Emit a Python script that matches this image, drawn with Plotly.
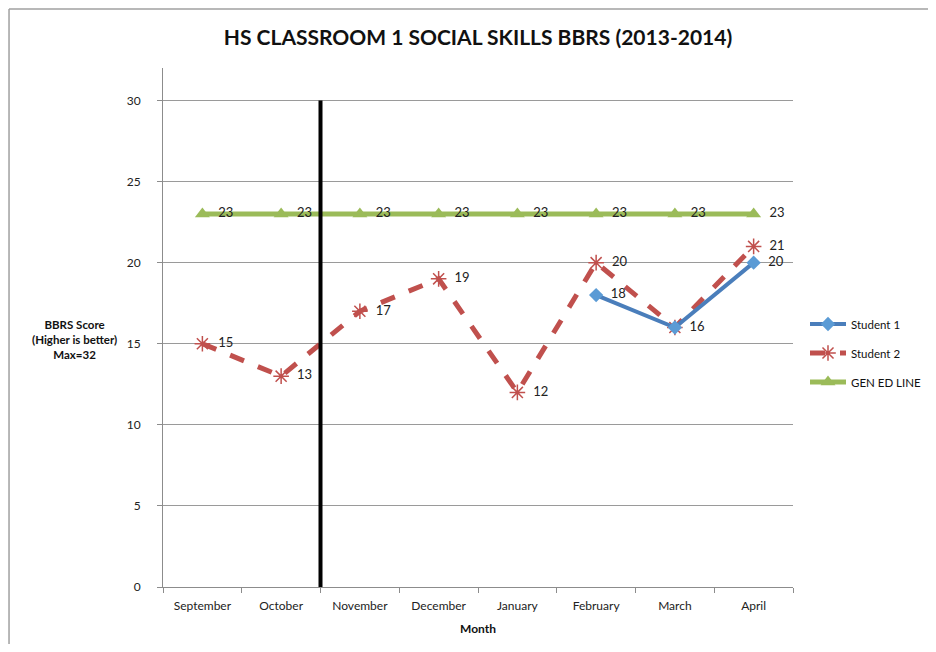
import plotly.graph_objects as go

# Chart data
months = ["September", "October", "November", "December",
          "January", "February", "March", "April"]
student_1 = [None, None, None, None, None, 18, 16, 20]
student_2 = [15, 13, 17, 19, 12, 20, 16, 21]
gen_ed_line = [23, 23, 23, 23, 23, 23, 23, 23]

FONT = "Lato"
PAD = "\u00a0\u00a0"  # small gap between marker and data label

W, H = 920, 636  # page adds an 8px body margin around the figure


def labels(values, skip=()):
    return ["" if v is None or i in skip else PAD + str(v)
            for i, v in enumerate(values)]


fig = go.Figure()

# Excel draws green underneath, then red, then blue on top
fig.add_trace(go.Scatter(
    x=months, y=gen_ed_line, name="GEN ED LINE", legendgroup="gen",
    legendrank=3,
    mode="lines+markers+text",
    line=dict(color="#9BBB59", width=5),
    marker=dict(symbol="triangle-up", size=13, color="#9BBB59"),
    text=labels(gen_ed_line), textposition="middle right",
    textfont=dict(size=13, color="#222"),
))

fig.add_trace(go.Scatter(
    x=months, y=student_2, name="Student 2", legendgroup="s2",
    legendrank=2,
    mode="lines+markers+text",
    line=dict(color="#C0504D", width=5, dash="dash"),
    marker=dict(symbol="asterisk-open", size=13,
                line=dict(color="#D9534F", width=1.5)),
    # March label is hidden behind Student 1's label in the original
    text=labels(student_2, skip=(6,)), textposition="middle right",
    textfont=dict(size=13, color="#222"),
))

fig.add_trace(go.Scatter(
    x=months, y=student_1, name="Student 1", legendgroup="s1",
    legendrank=1,
    mode="lines+markers+text",
    line=dict(color="#4A7EBB", width=4),
    marker=dict(symbol="diamond", size=11, color="#5B9BD5"),
    text=labels(student_1), textposition="middle right",
    textfont=dict(size=13, color="#222"),
))

# phase change line between October and November
fig.add_shape(type="line", xref="x", yref="y", x0=1.5, x1=1.5, y0=0, y1=30,
              line=dict(color="black", width=4))

# picture frame
fig.add_shape(type="line", xref="paper", yref="paper", x0=-0.2444, x1=1.25,
              y0=1.1137, y1=1.1137, line=dict(color="#A0A0A0", width=1.5))
fig.add_shape(type="line", xref="paper", yref="paper", x0=-0.2444, x1=-0.2444,
              y0=1.1137, y1=-0.2, line=dict(color="#A0A0A0", width=1.5))

fig.add_annotation(
    text="<b>BBRS Score<br>(Higher is better)<br>Max=32</b>",
    xref="paper", yref="paper", x=-0.1397, y=0.476,
    xanchor="center", yanchor="middle", showarrow=False,
    font=dict(size=11.5, color="#111", family=FONT), align="center",
)

fig.update_layout(
    width=W, height=H,
    paper_bgcolor="white", plot_bgcolor="white",
    font=dict(family=FONT, size=12, color="#222"),
    margin=dict(l=155, r=135, t=60, b=57, autoexpand=False),
    title=dict(text="<b>HS CLASSROOM 1 SOCIAL SKILLS BBRS (2013-2014)</b>",
               x=(155 + 315) / W, xanchor="center",
               y=0.953, yanchor="middle",
               font=dict(size=21, color="#111", family=FONT)),
    showlegend=True,
    legend=dict(xref="container", yref="container",
                x=797 / W, y=1 - 345 / H, xanchor="left", yanchor="middle",
                font=dict(size=11.5, color="#111"), tracegroupgap=10,
                itemwidth=36),
)

fig.update_xaxes(
    type="category", categoryorder="array", categoryarray=months,
    showline=True, linecolor="#8C8C8C", linewidth=1,
    ticks="outside", tickson="boundaries", ticklen=5, tickcolor="#8C8C8C",
    showgrid=False, range=[-0.5, 7.5], ticklabelstandoff=8,
    title=dict(text="<b>Month</b>", font=dict(size=12, color="#111"),
               standoff=12),
    tickfont=dict(size=12, color="#222"),
)
fig.update_yaxes(
    range=[0, 32], tickvals=[0, 5, 10, 15, 20, 25, 30],
    showline=True, linecolor="#8C8C8C", linewidth=1,
    ticks="outside", ticklen=5, tickcolor="#8C8C8C", ticklabelstandoff=14,
    showgrid=True, gridcolor="#9A9A9A", gridwidth=1,
    zeroline=False, tickfont=dict(size=12, color="#222"),
)

fig.write_html("out.html")
